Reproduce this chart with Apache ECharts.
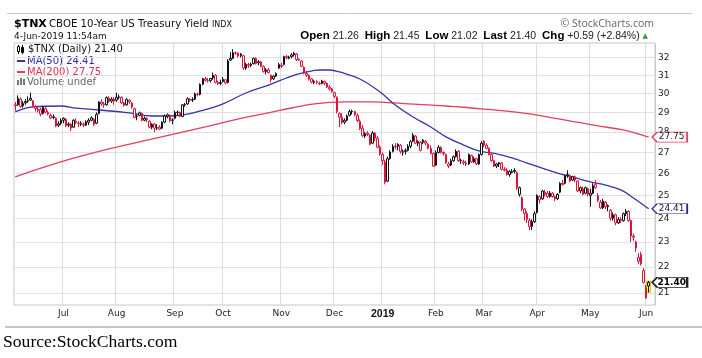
<!DOCTYPE html>
<html><head><meta charset="utf-8">
<script src="https://cdn.jsdelivr.net/npm/echarts@6/dist/echarts.min.js"></script>
<style>html,body{margin:0;padding:0;background:#fff}#c{width:702px;height:358px}</style>
</head><body><div id="c"></div>
<script>
// ---------- DATA ----------
const tradingDays = {
  '2018-06':[5,6,7,8,11,12,13,14,15,18,19,20,21,22,25,26,27,28,29],
  '2018-07':[2,3,5,6,9,10,11,12,13,16,17,18,19,20,23,24,25,26,27,30,31],
  '2018-08':[1,2,3,6,7,8,9,10,13,14,15,16,17,20,21,22,23,24,27,28,29,30,31],
  '2018-09':[4,5,6,7,10,11,12,13,14,17,18,19,20,21,24,25,26,27,28],
  '2018-10':[1,2,3,4,5,8,9,10,11,12,15,16,17,18,19,22,23,24,25,26,29,30,31],
  '2018-11':[1,2,5,6,7,8,9,12,13,14,15,16,19,20,21,23,26,27,28,29,30],
  '2018-12':[3,4,6,7,10,11,12,13,14,17,18,19,20,21,24,26,27,28,31],
  '2019-01':[2,3,4,7,8,9,10,11,14,15,16,17,18,22,23,24,25,28,29,30,31],
  '2019-02':[1,4,5,6,7,8,11,12,13,14,15,19,20,21,22,25,26,27,28],
  '2019-03':[1,4,5,6,7,8,11,12,13,14,15,18,19,20,21,22,25,26,27,28,29],
  '2019-04':[1,2,3,4,5,8,9,10,11,12,15,16,17,18,22,23,24,25,26,29,30],
  '2019-05':[1,2,3,6,7,8,9,10,13,14,15,16,17,20,21,22,23,24,28,29,30,31],
  '2019-06':[3,4]
};
const monthTickMonths = ['2018-07','2018-08','2018-09','2018-10','2018-11','2018-12','2019-01','2019-02','2019-03','2019-04','2019-05','2019-06'];
const monthTickLabels = ['Jul','Aug','Sep','Oct','Nov','Dec','2019','Feb','Mar','Apr','May','Jun'];
const yTicks = [21,22,23,24,25,26,27,28,29,30,31,32];

const opens = [].concat(
 [29.40,29.40,29.70,29.35,29.50,29.60,29.65,29.60,29.30,29.10,29.15,28.95,29.20,29.00,28.85,28.75,28.70,28.35,28.45],
 [28.60,28.65,28.35,28.40,28.25,28.55,28.45,28.40,28.40,28.35,28.50,28.60,28.65,28.45,28.95,29.55,29.45,29.40,29.75,29.60,29.70],
 [29.65,29.80,29.80,29.50,29.40,29.65,29.50,29.20,28.80,28.85,28.95,28.60,28.70,28.55,28.25,28.40,28.20,28.25,28.20,28.50,28.80,28.85,28.60],
 [28.70,29.00,29.00,28.80,29.40,29.45,29.70,29.65,29.70,29.95,29.95,30.50,30.80,30.70,30.70,30.85,31.00,30.60,30.55],
 [30.65,30.75,30.60,31.85,31.95,32.25,32.25,32.10,32.10,31.40,31.60,31.55,31.65,31.95,31.70,31.75,31.50,31.20,31.30,31.00,30.80,30.95,31.40],
 [31.55,31.60,32.05,31.95,32.05,32.15,32.20,31.90,31.80,31.45,31.10,31.00,30.80,30.60,30.65,30.55,30.55,30.65,30.55,30.35,30.25],
 [30.05,29.80,28.95,28.75,28.50,28.60,28.85,29.05,29.05,28.85,28.55,28.20,27.80,27.95,27.85,27.45,27.95,27.70,27.25],
 [26.90,26.55,25.65,26.70,27.05,27.30,27.30,27.35,27.00,27.05,27.10,27.30,27.55,27.80,27.45,27.50,27.60,27.55,27.40,27.20,26.95],
 [26.40,27.00,27.25,27.00,26.90,26.45,26.40,26.60,26.80,27.05,26.60,26.55,26.50,26.45,26.85,26.55,26.70,26.45,26.90],
 [27.55,27.35,27.20,26.90,26.60,26.35,26.45,26.50,26.20,26.15,25.95,26.05,26.10,26.05,25.05,24.90,24.40,24.20,23.90,23.65,23.85],
 [24.25,24.95,24.85,25.15,25.10,24.95,25.10,24.95,24.85,25.15,25.55,25.55,25.90,25.90,25.70,25.85,25.65,25.20,25.30,25.10,25.30],
 [25.00,25.10,25.50,25.00,24.70,24.45,24.70,24.50,24.35,24.00,24.15,23.80,23.95,23.90,24.20,24.30,23.90,23.25,23.00,22.38,22.50,21.85],
 [21.20,21.26]
);
const highs = [].concat(
 [29.55,29.90,29.80,29.60,29.70,29.85,30.05,29.65,29.40,29.30,29.25,29.35,29.30,29.10,28.95,28.90,28.75,28.55,28.70],
 [28.75,28.70,28.50,28.45,28.65,28.70,28.55,28.55,28.50,28.60,28.70,28.80,28.70,29.00,29.60,29.70,29.55,29.85,29.85,29.80,29.80],
 [30.05,29.95,29.85,29.55,29.75,29.70,29.55,29.25,28.90,29.05,29.00,28.80,28.75,28.60,28.45,28.45,28.40,28.35,28.55,28.90,28.95,28.90,28.70],
 [29.10,29.10,29.05,29.45,29.50,29.80,29.75,29.80,30.05,30.05,30.55,30.85,30.90,30.85,30.85,31.15,31.05,30.70,30.75],
 [30.90,30.80,31.90,32.30,32.48,32.35,32.30,32.25,32.15,31.70,31.70,31.70,32.00,32.00,31.85,31.80,31.55,31.40,31.40,31.05,31.00,31.15,31.70],
 [31.70,32.10,32.15,32.10,32.25,32.32,32.25,31.95,31.85,31.50,31.25,31.05,30.85,30.75,30.72,30.65,30.75,30.70,30.60,30.45,30.30],
 [30.10,29.85,29.00,28.95,28.70,28.90,29.15,29.15,29.10,28.95,28.65,28.35,28.00,28.05,27.90,28.05,28.00,27.80,27.35],
 [27.00,26.65,26.80,27.10,27.40,27.45,27.45,27.40,27.15,27.20,27.40,27.60,27.95,27.85,27.60,27.55,27.65,27.60,27.45,27.35,27.00],
 [27.10,27.35,27.30,27.05,26.95,26.55,26.70,26.85,27.15,27.10,26.70,26.65,26.60,26.95,26.90,26.80,26.75,26.95,27.55],
 [27.60,27.45,27.25,26.95,26.65,26.50,26.55,26.55,26.30,26.25,26.15,26.20,26.25,26.10,25.40,24.95,24.45,24.30,24.00,23.95,24.30],
 [25.05,25.00,25.25,25.25,25.20,25.20,25.15,25.00,25.10,25.60,25.70,25.95,26.15,25.95,25.90,25.90,25.70,25.40,25.40,25.40,25.35],
 [25.30,25.55,25.70,25.10,24.80,24.85,24.75,24.60,24.40,24.25,24.20,24.05,24.05,24.25,24.40,24.35,23.95,23.35,23.05,22.55,22.60,21.95],
 [21.30,21.45]
);
const lows = [].concat(
 [29.10,29.35,29.25,29.25,29.40,29.50,29.60,29.25,29.05,29.00,28.80,28.90,28.95,28.85,28.65,28.65,28.25,28.25,28.35],
 [28.45,28.25,28.25,28.05,28.20,28.40,28.25,28.30,28.25,28.30,28.35,28.55,28.30,28.40,28.90,29.35,29.25,29.35,29.50,29.50,29.40],
 [29.55,29.70,29.45,29.30,29.35,29.45,29.20,28.70,28.60,28.80,28.55,28.55,28.50,28.20,28.15,28.00,28.10,28.10,28.15,28.45,28.70,28.50,28.40],
 [28.65,28.85,28.75,28.75,29.30,29.40,29.55,29.55,29.65,29.85,29.90,30.45,30.65,30.60,30.60,30.75,30.55,30.45,30.45],
 [30.60,30.50,30.55,31.80,31.90,32.15,32.00,32.00,31.30,31.30,31.40,31.45,31.60,31.60,31.55,31.45,31.15,31.05,31.10,30.60,30.75,30.90,31.35],
 [31.40,31.55,31.90,31.90,31.95,32.05,31.80,31.80,31.45,31.05,30.90,30.70,30.55,30.50,30.50,30.45,30.50,30.45,30.30,30.15,30.05],
 [29.75,28.95,28.25,28.40,28.40,28.55,28.80,28.90,28.80,28.50,28.10,27.75,27.70,27.80,27.35,27.40,27.55,27.20,26.85],
 [26.40,25.50,25.60,26.65,27.00,27.15,27.10,26.95,26.85,26.90,27.05,27.20,27.50,27.40,27.30,27.05,27.40,27.35,27.15,26.90,26.30],
 [26.35,26.95,26.95,26.85,26.45,26.25,26.35,26.55,26.75,26.55,26.45,26.40,26.35,26.40,26.50,26.50,26.40,26.40,26.85],
 [27.25,27.15,26.85,26.55,26.30,26.25,26.30,26.15,26.10,25.90,25.85,26.00,26.00,25.25,24.95,24.30,23.90,23.80,23.50,23.50,23.80],
 [24.20,24.65,24.80,24.95,24.90,24.90,24.90,24.75,24.80,25.10,25.45,25.50,25.80,25.60,25.65,25.60,25.15,25.10,25.00,25.05,24.95],
 [24.50,25.05,25.30,24.70,24.40,24.40,24.40,24.30,23.90,23.90,23.70,23.75,23.80,23.85,24.10,23.85,23.00,23.05,22.60,22.10,22.05,21.35],
 [20.78,21.02]
);
const closes = [].concat(
 [29.35,29.75,29.32,29.48,29.58,29.62,29.75,29.35,29.20,29.18,28.92,29.28,29.02,28.92,28.72,28.78,28.30,28.42,28.60],
 [28.70,28.32,28.40,28.20,28.60,28.48,28.42,28.45,28.35,28.52,28.60,28.72,28.40,28.90,29.55,29.45,29.40,29.78,29.58,29.70,29.60],
 [29.80,29.82,29.50,29.38,29.68,29.55,29.28,28.75,28.80,28.98,28.60,28.70,28.62,28.25,28.40,28.20,28.22,28.15,28.50,28.82,28.88,28.58,28.62],
 [29.00,29.02,28.80,29.40,29.42,29.72,29.65,29.68,29.98,29.95,30.50,30.80,30.72,30.68,30.82,31.00,30.60,30.52,30.60],
 [30.78,30.58,31.80,31.95,32.28,32.25,32.08,32.20,31.40,31.60,31.55,31.62,31.95,31.65,31.75,31.50,31.20,31.30,31.15,30.75,30.95,31.10,31.60],
 [31.50,32.05,31.98,32.02,32.15,32.25,31.88,31.85,31.50,31.12,31.00,30.78,30.62,30.65,30.60,30.52,30.68,30.55,30.35,30.25,30.10],
 [29.85,29.05,28.75,28.50,28.60,28.82,29.05,29.08,28.88,28.58,28.18,27.82,27.92,27.88,27.40,27.95,27.70,27.25,26.92],
 [26.60,25.60,26.70,27.02,27.30,27.28,27.40,27.05,27.05,27.10,27.30,27.52,27.85,27.45,27.52,27.10,27.50,27.45,27.20,26.95,26.35],
 [27.00,27.25,27.00,26.95,26.50,26.35,26.60,26.80,27.05,26.60,26.62,26.50,26.45,26.90,26.55,26.70,26.45,26.90,27.45],
 [27.35,27.20,26.90,26.60,26.35,26.45,26.50,26.20,26.15,25.95,26.10,26.10,26.15,25.35,25.35,24.40,24.20,23.95,23.65,23.85,24.20],
 [25.00,24.80,25.20,25.05,24.95,25.10,24.95,24.85,25.05,25.55,25.50,25.90,25.95,25.65,25.85,25.70,25.20,25.35,25.05,25.35,25.05],
 [25.10,25.45,25.35,24.78,24.45,24.75,24.50,24.55,24.00,24.15,23.80,23.95,23.90,24.20,24.30,23.90,23.25,23.20,22.75,22.22,22.12,21.40],
 [20.81,21.40]
);

// moving averages at sample dates
const ma50Dates = ['2018-06-05','2018-06-14','2018-06-29','2018-07-10','2018-07-23','2018-08-08','2018-08-21','2018-08-29','2018-09-07','2018-09-18','2018-10-01','2018-10-12','2018-10-25','2018-11-06','2018-11-15','2018-11-23','2018-11-29','2018-12-06','2018-12-18','2018-12-31','2019-01-09','2019-01-18','2019-01-30','2019-02-07','2019-02-19','2019-02-27','2019-03-08','2019-03-18','2019-03-27','2019-04-05','2019-04-12','2019-04-22','2019-05-01','2019-05-09','2019-05-17','2019-05-24','2019-06-04'];
const ma50Values = [29.03,29.29,29.34,29.23,29.13,28.98,28.82,28.82,28.87,29.08,29.45,30.03,30.46,30.90,31.18,31.29,31.29,31.18,30.79,30.08,29.39,28.77,28.26,27.76,27.36,27.07,26.93,26.74,26.45,26.17,25.98,25.84,25.61,25.47,25.25,24.89,24.41];
const ma200Dates = ['2018-06-05','2018-06-29','2018-07-27','2018-08-23','2018-09-20','2018-10-11','2018-10-31','2018-11-20','2018-12-10','2018-12-24','2019-01-16','2019-02-07','2019-03-01','2019-03-22','2019-04-12','2019-05-06','2019-05-20','2019-06-04'];
const ma200Values = [25.85,26.55,27.17,27.71,28.26,28.72,29.10,29.45,29.56,29.56,29.45,29.34,29.18,28.98,28.66,28.31,28.11,27.75];

// ---------- BUILD ----------
const pad2 = n => (n < 10 ? '0' : '') + n;
const categories = [];
Object.keys(tradingDays).forEach(m => tradingDays[m].forEach(d => categories.push(m + '-' + pad2(d))));
const nDays = categories.length;
const axisCats = categories.concat([' ', '  ']);
const monthLabelOf = {};
monthTickMonths.forEach((m, i) => { monthLabelOf[m + '-' + pad2(tradingDays[m][0])] = monthTickLabels[i]; });

const RED = '#dc143c', BLK = '#111';
const candleData = closes.map((c, i) => {
  const prev = i > 0 ? closes[i - 1] : opens[i];
  const col = c < prev ? RED : BLK;
  return { value: [opens[i], c, lows[i], highs[i]], itemStyle: { color: '#fff', color0: col, borderColor: col, borderColor0: col } };
});
const last = nDays - 1;
const lastCat = categories[last];
const chg = closes[last] - closes[last - 1];
const pct = chg / closes[last - 1] * 100;
const fmt = v => v.toFixed(2);
const sgn = v => (v >= 0 ? '+' : '') + v.toFixed(2);

const tagPath = 'path://M0,5L5,0L35,0L35,10L5,10Z';
function tag(cat, val, border, bold) {
  return {
    symbol: tagPath, symbolSize: [35, 10], symbolOffset: [21, 0], symbolKeepAspect: false,
    data: [{ coord: [cat, val], value: val }],
    itemStyle: { color: '#fff', borderColor: border, borderWidth: bold ? 1.3 : 1 },
    label: { show: true, position: 'inside', formatter: p => fmt(p.value), offset: [2, 0],
      fontFamily: 'DejaVu Sans', fontSize: 9, fontWeight: bold ? 'bold' : 'normal', color: bold ? '#000' : '#222' },
    emphasis: { disabled: true }, animation: false, z: 10
  };
}

const chart = echarts.init(document.getElementById('c'), null, { renderer: 'canvas' });
const lineCol50 = '#3535a8', lineCol200 = '#e2405e';
const txt = (t, x, y, font, fill, align) => ({ type: 'text', silent: true, style: { text: t, x: x, y: y, font: font, fill: fill, align: align || 'left', textAlign: align || 'left', verticalAlign: 'middle', textVerticalAlign: 'middle' } });

const option = {
  animation: false,
  grid: { left: 14, right: 47, top: 43, bottom: 53, show: true, borderColor: '#c6c6c6', borderWidth: 1, backgroundColor: '#fff' },
  xAxis: {
    type: 'category', data: axisCats, boundaryGap: true,
    axisLine: { show: false }, axisTick: { show: false },
    axisLabel: {
      interval: (i, v) => !!monthLabelOf[v],
      formatter: v => { const l = monthLabelOf[v] || ''; return /^\d{4}$/.test(l) ? '{y|' + l + '}' : l; },
      fontFamily: 'DejaVu Sans', fontSize: 9, color: '#222', margin: 4,
      rich: { y: { fontFamily: 'Liberation Sans', fontWeight: 'bold', fontSize: 10.5, color: '#111' } }
    },
    splitLine: { show: true, interval: (i, v) => !!monthLabelOf[v], lineStyle: { color: '#dcdcdc', width: 1 } }
  },
  yAxis: {
    type: 'log', logBase: 10, min: 20.55, max: 32.84, position: 'right',
    axisLine: { show: true, lineStyle: { color: '#c6c6c6', type: 'dotted' } },
    axisTick: { show: false, customValues: yTicks },
    axisLabel: { customValues: yTicks, formatter: v => String(Math.round(v)), fontFamily: 'DejaVu Sans', fontSize: 9, color: '#222', margin: 3 },
    splitLine: { show: true, lineStyle: { color: '#e2e2e2', width: 1 } }
  },
  series: [
    { name: 'highlight', type: 'candlestick', z: 1, barWidth: 5,
      encode: { x: 0, y: [1, 2, 3, 4] },
      data: [[lastCat, lows[last], highs[last], lows[last], highs[last]]],
      itemStyle: { color: '#ffff3a', color0: '#ffff3a', borderColor: '#d8cc00', borderColor0: '#d8cc00', borderWidth: 1 },
      emphasis: { disabled: true }, silent: true },
    { name: 'MA(200)', type: 'line', z: 3, data: ma200Dates.map((d, i) => [d, ma200Values[i]]), smooth: 0.4,
      showSymbol: false, symbol: 'none', lineStyle: { color: lineCol200, width: 1.3 }, emphasis: { disabled: true }, silent: true,
      markPoint: tag(ma200Dates[ma200Dates.length - 1], ma200Values[ma200Values.length - 1], '#e2405e', false) },
    { name: 'MA(50)', type: 'line', z: 3, data: ma50Dates.map((d, i) => [d, ma50Values[i]]), smooth: 0.4,
      showSymbol: false, symbol: 'none', lineStyle: { color: lineCol50, width: 1.3 }, emphasis: { disabled: true }, silent: true,
      markPoint: tag(ma50Dates[ma50Dates.length - 1], ma50Values[ma50Values.length - 1], '#2a2aa0', false) },
    { name: '$TNX', type: 'candlestick', z: 4, barWidth: 2, data: candleData,
      itemStyle: { borderWidth: 1 }, emphasis: { disabled: true }, silent: true,
      markPoint: tag(lastCat, closes[last], '#222', true) }
  ],
  graphic: [
    { type: 'line', silent: true, shape: { x1: 7, y1: 13.5, x2: 692, y2: 13.5 }, style: { stroke: '#c8c8c8', lineWidth: 1 } },
    txt('$TNX', 14, 24, 'bold 11px "DejaVu Sans"', '#000'),
    txt('CBOE 10-Year US Treasury Yield', 49, 24.5, '10.2px "DejaVu Sans"', '#111'),
    txt('INDX', 212, 25, '8px "DejaVu Sans"', '#111'),
    txt('4-Jun-2019 11:54am', 14, 37, '9px "DejaVu Sans"', '#111'),
    txt('\u00A9 StockCharts.com', 654, 24, '10.5px "Open Sans"', '#666', 'right'),
    { type: 'text', silent: true, style: {
        text: '{b|Open} {v|' + fmt(opens[last]) + '}  {b|High} {v|' + fmt(highs[last]) + '}  {b|Low} {v|' + fmt(lows[last]) + '}  {b|Last} {v|' + fmt(closes[last]) + '}  {b|Chg} {v|' + sgn(chg) + ' (' + sgn(pct) + '%)} {g|\u25B2}',
        x: 648, y: 36, align: 'right', textAlign: 'right', verticalAlign: 'middle', textVerticalAlign: 'middle',
        font: '10.5px "Liberation Sans"', fill: '#111',
        rich: { b: { font: 'bold 11.5px "Liberation Sans"', fill: '#000' }, v: { font: '10.5px "Liberation Sans"', fill: '#222' }, g: { font: '7px "DejaVu Sans"', fill: '#2a9a2a' } } } },
    // legend
    { type: 'line', silent: true, shape: { x1: 18.5, y1: 45, x2: 18.5, y2: 54 }, style: { stroke: '#000', lineWidth: 1 } },
    { type: 'rect', silent: true, shape: { x: 17.5, y: 46.5, width: 2, height: 5 }, style: { fill: '#fff', stroke: '#000', lineWidth: 1 } },
    { type: 'line', silent: true, shape: { x1: 22.5, y1: 45, x2: 22.5, y2: 54 }, style: { stroke: '#000', lineWidth: 1 } },
    { type: 'rect', silent: true, shape: { x: 21.5, y: 47.5, width: 2, height: 5 }, style: { fill: '#000', stroke: '#000', lineWidth: 1 } },
    txt('$TNX (Daily) ' + fmt(closes[last]), 28, 49.5, '10px "DejaVu Sans"', '#111'),
    { type: 'line', silent: true, shape: { x1: 17, y1: 61, x2: 25, y2: 61 }, style: { stroke: lineCol50, lineWidth: 2 } },
    txt('MA(50) ' + fmt(ma50Values[ma50Values.length - 1]), 27, 61, '10px "DejaVu Sans"', '#2a2aa0'),
    { type: 'line', silent: true, shape: { x1: 17, y1: 72, x2: 25, y2: 72 }, style: { stroke: lineCol200, lineWidth: 2 } },
    txt('MA(200) ' + fmt(ma200Values[ma200Values.length - 1]), 27, 72, '10px "DejaVu Sans"', '#e0304e'),
    { type: 'rect', silent: true, shape: { x: 17, y: 80, width: 2, height: 5 }, style: { fill: '#777' } },
    { type: 'rect', silent: true, shape: { x: 20, y: 78, width: 2, height: 7 }, style: { fill: '#777' } },
    { type: 'rect', silent: true, shape: { x: 23, y: 79, width: 2, height: 6 }, style: { fill: '#777' } },
    txt('Volume undef', 27, 82, '10px "DejaVu Sans"', '#666'),
    // bottom
    { type: 'line', silent: true, shape: { x1: 5, y1: 327, x2: 702, y2: 327 }, style: { stroke: '#c4c4c4', lineWidth: 2 } },
    txt('Source:StockCharts.com', 3, 342, '17.6px "Liberation Serif"', '#000')
  ]
};
if (opens.length !== nDays || highs.length !== nDays || lows.length !== nDays || closes.length !== nDays) {
  option.graphic.push(txt('LEN ' + nDays + ' ' + opens.length + ' ' + highs.length + ' ' + lows.length + ' ' + closes.length, 200, 200, '14px sans-serif', 'red'));
}
chart.setOption(option);
</script>
</body></html>
